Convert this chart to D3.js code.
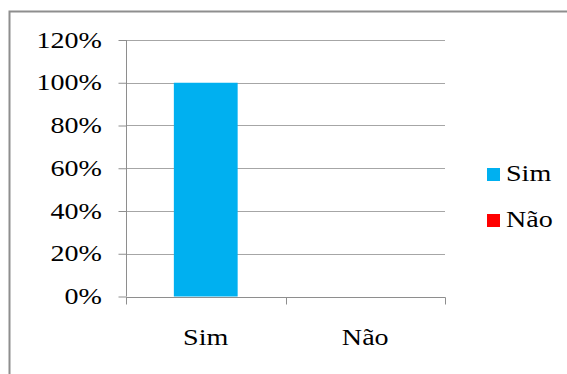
<!DOCTYPE html>
<html><head><meta charset="utf-8">
<script src="https://cdn.jsdelivr.net/npm/d3@7"></script>
<style>html,body{margin:0;padding:0;background:#fff;}svg{display:block;}</style>
</head><body>
<svg id="c" width="567" height="374"></svg>
<script>
const categories = ["Sim", "Não"];
const seriesNames = ["Sim", "Não"];
const seriesColors = ["#00b0f0", "#ff0000"];
const values = [1.00, 0.00];
const yTicks = [0, 0.2, 0.4, 0.6, 0.8, 1.0, 1.2];

const svg = d3.select("#c");
const font = "Liberation Serif";
const fs = 24, sx = 1.17;

// outer border
svg.append("path").attr("d","M9.5,374 V11.5 H567")
  .attr("fill","none").attr("stroke","#8e8e8e").attr("stroke-width",2);

const x0 = 126, x1 = 445, y0 = 296.5, y1 = 40;
const x = d3.scaleBand().domain(categories).range([x0, x1]).paddingInner(0).paddingOuter(0);
const y = d3.scaleLinear().domain([0, 1.2]).range([y0, y1]);

// gridlines
svg.append("g").selectAll("line").data(yTicks.filter(t => t > 0)).join("line")
  .attr("x1", x0).attr("x2", x1)
  .attr("y1", d => Math.round(y(d)) + 0.5).attr("y2", d => Math.round(y(d)) + 0.5)
  .attr("stroke", "#a6a6a6").attr("stroke-width", 1);

// bars
const bw = x.bandwidth() / 2.5;
svg.append("g").selectAll("rect").data(values).join("rect")
  .attr("x", (d, i) => x(categories[i]) + (x.bandwidth() - bw) / 2)
  .attr("width", bw)
  .attr("y", d => y(d))
  .attr("height", d => y0 - y(d))
  .attr("fill", (d, i) => seriesColors[i]);

// y axis
const yAxis = svg.append("g").attr("transform", `translate(${x0 + 0.5},0)`)
  .call(d3.axisLeft(y).tickValues(yTicks).tickSize(8).tickFormat(d3.format(".0%")));
yAxis.select(".domain").attr("stroke", "#8e8e8e").attr("d", `M0,${y1} V${y0}`);
yAxis.selectAll(".tick line").attr("stroke", "#8e8e8e");
yAxis.selectAll(".tick text").remove();
svg.append("g").selectAll("text").data(yTicks).join("text")
  .attr("transform", d => `translate(102,${y(d) + 7.5}) scale(${sx},1)`)
  .attr("text-anchor", "end")
  .style("font-family", font).style("font-size", fs + "px").attr("fill", "#000")
  .text(d3.format(".0%"));

// x axis
const xAxisG = svg.append("g").attr("transform", `translate(0,${Math.round(y0) + 0.5})`);
xAxisG.append("line").attr("x1", x0).attr("x2", x1 + 0.5).attr("stroke", "#8e8e8e");
const bounds = [x0, x0 + x.bandwidth(), x1];
xAxisG.selectAll("line.t").data(bounds).join("line").attr("class","t")
  .attr("x1", d => Math.round(d) + 0.5).attr("x2", d => Math.round(d) + 0.5)
  .attr("y1", 0).attr("y2", 7).attr("stroke", "#8e8e8e");
svg.append("g").selectAll("text").data(categories).join("text")
  .attr("transform", d => `translate(${x(d) + x.bandwidth() / 2},345) scale(${sx},1)`)
  .attr("text-anchor", "middle")
  .style("font-family", font).style("font-size", fs + "px").attr("fill", "#000")
  .text(d => d);

// legend
const lg = svg.append("g").selectAll("g").data(seriesNames).join("g")
  .attr("transform", (d, i) => `translate(487,${168 + i * 46})`);
lg.append("rect").attr("width", 13).attr("height", 13).attr("fill", (d, i) => seriesColors[i]);
lg.append("text")
  .attr("transform", `translate(19,13) scale(${sx},1)`)
  .style("font-family", font).style("font-size", fs + "px").attr("fill", "#000")
  .text(d => d);
</script>
</body></html>
